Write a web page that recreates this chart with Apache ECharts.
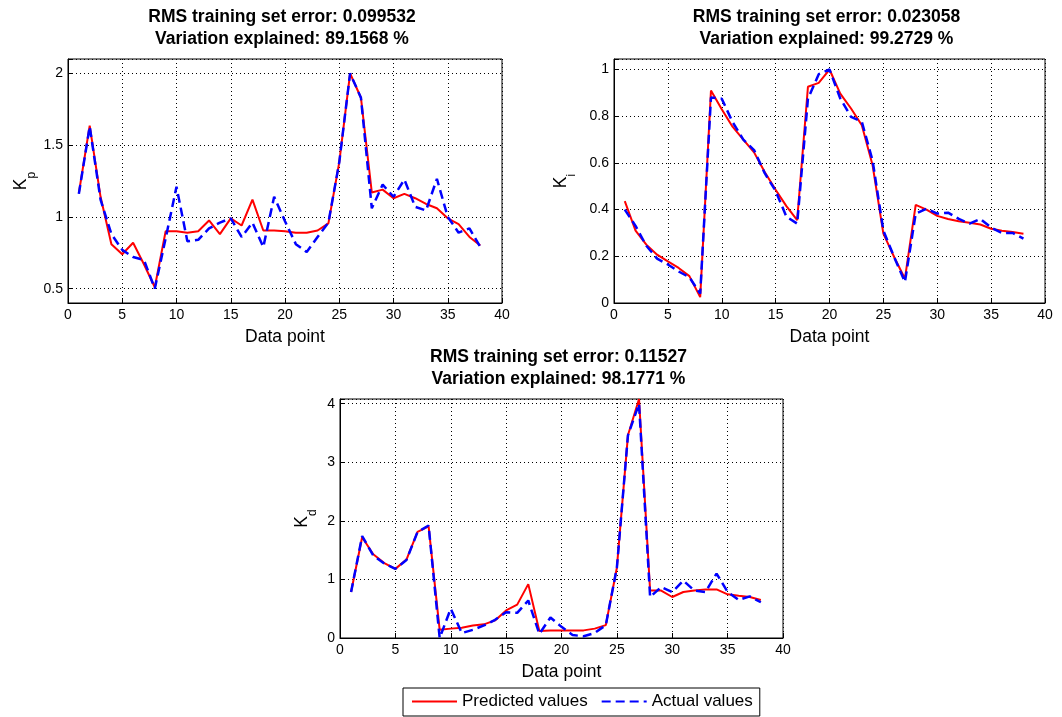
<!DOCTYPE html>
<html><head><meta charset="utf-8">
<script src="https://cdn.jsdelivr.net/npm/echarts@6/dist/echarts.min.js"></script>
<style>html,body{margin:0;padding:0;background:#fff}#c{width:1062px;height:717px}</style>
</head><body><div id="c"></div>
<script>
const dataPoints = [];
for (let i = 1; i <= 38; i++) dataPoints.push(i);

const kpPredicted = [1.165,1.636,1.14,0.81,0.74,0.82,0.67,0.51,0.90,0.90,0.89,0.90,0.975,0.88,0.99,0.94,1.12,0.905,0.905,0.90,0.89,0.89,0.905,0.955,1.38,2.0,1.83,1.17,1.19,1.13,1.16,1.13,1.09,1.06,0.99,0.95,0.86,0.80];
const kpActual    = [1.16,1.63,1.12,0.88,0.77,0.72,0.70,0.50,0.85,1.21,0.83,0.84,0.92,0.96,0.99,0.86,0.96,0.79,1.14,0.97,0.81,0.755,0.86,0.96,1.38,2.0,1.83,1.06,1.225,1.14,1.26,1.07,1.045,1.265,1.0,0.89,0.92,0.79];

const kiPredicted = [0.436,0.31,0.25,0.207,0.178,0.15,0.115,0.025,0.91,0.83,0.755,0.70,0.645,0.56,0.485,0.415,0.355,0.926,0.943,1.0,0.897,0.833,0.761,0.59,0.297,0.197,0.104,0.42,0.40,0.373,0.36,0.35,0.344,0.336,0.318,0.309,0.304,0.297];
const kiActual    = [0.40,0.33,0.245,0.19,0.165,0.135,0.11,0.04,0.88,0.875,0.775,0.70,0.655,0.555,0.48,0.37,0.34,0.875,0.98,1.0,0.876,0.797,0.776,0.61,0.31,0.197,0.09,0.383,0.404,0.383,0.387,0.36,0.34,0.36,0.323,0.30,0.30,0.276];

const kdPredicted = [0.785,1.72,1.43,1.28,1.18,1.34,1.81,1.905,0.14,0.16,0.175,0.215,0.233,0.30,0.47,0.57,0.92,0.12,0.13,0.13,0.13,0.13,0.16,0.22,1.2,3.46,4.08,0.81,0.81,0.70,0.785,0.81,0.83,0.83,0.745,0.72,0.70,0.65];
const kdActual    = [0.785,1.74,1.41,1.27,1.18,1.33,1.81,1.92,0.0,0.50,0.085,0.14,0.215,0.31,0.44,0.43,0.64,0.07,0.35,0.19,0.05,0.03,0.085,0.22,1.2,3.46,4.0,0.70,0.87,0.785,0.98,0.81,0.785,1.10,0.785,0.65,0.71,0.61];

const xTicks = [0,5,10,15,20,25,30,35,40];
const titles = [
  ['RMS training set error: 0.099532', 'Variation explained: 89.1568 %'],
  ['RMS training set error: 0.023058', 'Variation explained: 99.2729 %'],
  ['RMS training set error: 0.11527', 'Variation explained: 98.1771 %']
];
const yNames = [['K','p'],['K','i'],['K','d']];
const seriesNames = ['Predicted values','Actual values'];

const FONT = 'Liberation Sans, Arial, Helvetica, sans-serif';
const pairs = arr => arr.map((v, i) => [dataPoints[i], v]);

const grids = [
  {left: 68, top: 59, width: 434, height: 244},
  {left: 614, top: 59, width: 431, height: 244},
  {left: 340, top: 399, width: 443, height: 239}
];
const yCfg = [
  {min: 0.4, max: 2.1, splitNumber: 4, step: 0.5, gap: 30},
  {min: 0, max: 1.045, interval: 0.2, step: 0.2, gap: 36},
  {min: 0, max: 4.08, interval: 1, step: 1, gap: 21}
];

function isMultiple(v, step) {
  const r = v / step;
  return Math.abs(r - Math.round(r)) < 1e-6;
}

const option = {
  backgroundColor: '#fff',
  animation: false,
  textStyle: {fontFamily: FONT},
  grid: grids.map(g => Object.assign({show: true, borderColor: '#000', borderWidth: 1, backgroundColor: '#fff'}, g)),
  xAxis: grids.map((g, i) => ({
    type: 'value', gridIndex: i, min: xTicks[0], max: xTicks[xTicks.length - 1], interval: xTicks[1] - xTicks[0],
    name: 'Data point', nameLocation: 'middle', nameGap: 25,
    nameTextStyle: {fontSize: 17.5, color: '#000', fontFamily: FONT},
    axisLine: {show: true, lineStyle: {color: '#000', width: 1}},
    axisTick: {show: true, inside: true, length: 5, lineStyle: {color: '#000'}},
    axisLabel: {fontSize: 14, color: '#000', margin: 5, fontFamily: FONT},
    splitLine: {show: true, lineStyle: {color: '#000', width: 1, type: [1, 3]}}
  })),
  yAxis: yCfg.map((c, i) => {
    const ax = {
      type: 'value', gridIndex: i, min: c.min, max: c.max,
      name: '{k|' + yNames[i][0] + '}{s|' + yNames[i][1] + '}',
      nameLocation: 'middle', nameRotate: 90, nameGap: c.gap,
      nameTextStyle: {
        color: '#000', fontFamily: FONT,
        rich: {
          k: {fontSize: 17.5, color: '#000', fontFamily: FONT, verticalAlign: 'top', lineHeight: 19},
          s: {fontSize: 12, color: '#000', fontFamily: FONT, verticalAlign: 'bottom', lineHeight: 26}
        }
      },
      axisLine: {show: true, lineStyle: {color: '#000', width: 1}},
      axisTick: {show: true, inside: true, length: 5, lineStyle: {color: '#000'}},
      axisLabel: {
        fontSize: 14, color: '#000', margin: 5, fontFamily: FONT,
        formatter: v => isMultiple(v, c.step) ? String(Math.round(v * 1000) / 1000) : ''
      },
      splitLine: {show: true, lineStyle: {color: '#000', width: 1, type: [1, 3]}}
    };
    if (c.interval) ax.interval = c.interval; else ax.splitNumber = c.splitNumber;
    return ax;
  }),
  legend: {
    data: seriesNames,
    left: 403, top: 688,
    orient: 'horizontal',
    borderColor: '#000', borderWidth: 1, backgroundColor: '#fff',
    padding: [5, 7, 6, 8],
    itemGap: 13, itemWidth: 45, itemHeight: 14,
    itemStyle: {opacity: 0},
    textStyle: {fontSize: 17, color: '#000', fontFamily: FONT}
  },
  graphic: [],
  series: []
};

const predSets = [kpPredicted, kiPredicted, kdPredicted];
const actSets = [kpActual, kiActual, kdActual];
for (let i = 0; i < 3; i++) {
  option.series.push({
    name: seriesNames[0], type: 'line', xAxisIndex: i, yAxisIndex: i,
    data: pairs(predSets[i]), symbol: 'none', showSymbol: false,
    lineStyle: {color: '#ff0000', width: 2},
    itemStyle: {color: '#ff0000'}
  });
}
for (let i = 0; i < 3; i++) {
  option.series.push({
    name: seriesNames[1], type: 'line', xAxisIndex: i, yAxisIndex: i,
    data: pairs(actSets[i]), symbol: 'none', showSymbol: false,
    lineStyle: {color: '#0000ff', width: 2.5, type: [9, 5]},
    itemStyle: {color: '#0000ff'}
  });
}

grids.forEach((g, i) => {
  const cx = g.left + g.width / 2 - 3;
  const y0 = g.top - 42;
  titles[i].forEach((t, j) => {
    option.graphic.push({
      type: 'text', x: cx, y: y0 + j * 22, silent: true,
      style: {text: t, fill: '#000', fontSize: 17.5, fontWeight: 'bold', fontFamily: FONT,
        align: 'center', verticalAlign: 'middle', textAlign: 'center', textVerticalAlign: 'middle'}
    });
  });
});

const chart = echarts.init(document.getElementById('c'), null, {renderer: 'canvas'});
chart.setOption(option);
</script>
</body></html>
